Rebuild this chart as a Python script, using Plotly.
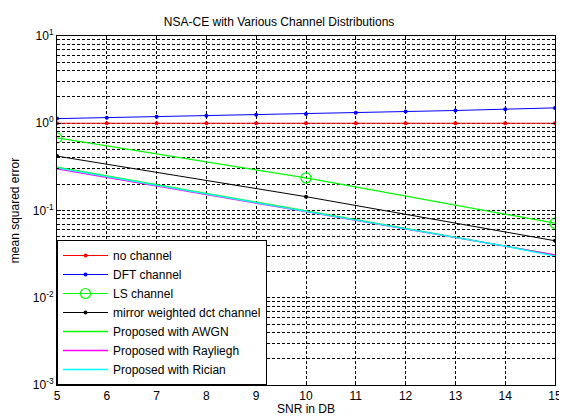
import plotly.graph_objects as go

snr = [5, 6, 7, 8, 9, 10, 11, 12, 13, 14, 15]
snr_ls = [5, 10, 15]

no_channel = [1.0] * 11
dft_channel = [1.13, 1.16, 1.19, 1.22, 1.25, 1.28, 1.32, 1.36, 1.40, 1.45, 1.50]
ls_channel = [0.68, 0.236, 0.0715]
mirror_dct = [0.42, 0.144, 0.045]
awgn = [0.315, 0.250, 0.198, 0.157, 0.125, 0.099, 0.079, 0.062, 0.049, 0.039, 0.031]
rayleigh = [0.300, 0.240, 0.191, 0.152, 0.121, 0.097, 0.077, 0.061, 0.049, 0.039, 0.031]
rician = [0.308, 0.245, 0.194, 0.155, 0.123, 0.098, 0.078, 0.062, 0.049, 0.039, 0.030]

ytick_vals = [1e-3, 1e-2, 1e-1, 1e0, 1e1]
ytick_text = ["10<sup>-3</sup>", "10<sup>-2</sup>", "10<sup>-1</sup>", "10<sup>0</sup>", "10<sup>1</sup>"]
yminor_vals = [m * 10.0 ** e for e in range(-3, 1) for m in range(2, 10)]

fig = go.Figure()
fig.add_trace(go.Scatter(x=snr, y=no_channel, name="no channel", mode="lines+markers",
                         line=dict(color="#ff0000", width=1), marker=dict(symbol="circle", size=4, color="#ff0000")))
fig.add_trace(go.Scatter(x=snr, y=dft_channel, name="DFT channel", mode="lines+markers",
                         line=dict(color="#0000ff", width=1), marker=dict(symbol="circle", size=4, color="#0000ff")))
fig.add_trace(go.Scatter(x=snr_ls, y=ls_channel, name="LS channel", mode="lines+markers",
                         line=dict(color="#00ff00", width=1.2),
                         marker=dict(symbol="circle-open", size=10, color="#00ff00", line=dict(width=1.2))))
fig.add_trace(go.Scatter(x=snr_ls, y=mirror_dct, name="mirror weighted dct channel", mode="lines+markers",
                         line=dict(color="#000000", width=1), marker=dict(symbol="circle", size=4, color="#000000")))
fig.add_trace(go.Scatter(x=snr, y=awgn, name="Proposed with AWGN", mode="lines",
                         line=dict(color="#00ff00", width=1.3)))
fig.add_trace(go.Scatter(x=snr, y=rayleigh, name="Proposed with Rayliegh", mode="lines",
                         line=dict(color="#ff00ff", width=1.3)))
fig.add_trace(go.Scatter(x=snr, y=rician, name="Proposed with Rician", mode="lines",
                         line=dict(color="#00ffff", width=1.3)))

font = "Liberation Sans, Arial, sans-serif"
fig.update_layout(
    width=559, height=408,
    margin=dict(l=49, r=12, t=28, b=31),
    paper_bgcolor="white", plot_bgcolor="white",
    font=dict(family=font, size=12, color="black"),
    title=dict(text="NSA-CE with Various Channel Distributions", x=0.485, xanchor="center",
               xref="container", y=0.965, yref="container", yanchor="middle", font=dict(size=12)),
    showlegend=True,
    legend=dict(x=0, y=0, xanchor="left", yanchor="bottom", bgcolor="white",
                bordercolor="black", borderwidth=1, font=dict(size=12),
                tracegroupgap=0, itemwidth=45),
    xaxis=dict(range=[5, 15], tickmode="linear", dtick=1, tick0=5,
               showline=True, linecolor="black", linewidth=1, mirror="ticks",
               ticks="inside", ticklen=4, tickcolor="black",
               showgrid=True, gridcolor="black", gridwidth=1, griddash="3px,2px",
               zeroline=False, automargin=False,
               title=dict(text="SNR in DB", standoff=5, font=dict(size=12))),
    yaxis=dict(type="log", range=[-3, 1], tickmode="array", tickvals=ytick_vals, ticktext=ytick_text,
               showline=True, linecolor="black", linewidth=1, mirror="ticks",
               ticks="inside", ticklen=4, tickcolor="black",
               showgrid=True, gridcolor="black", gridwidth=1, griddash="3px,2px",
               minor=dict(tickmode="array", tickvals=yminor_vals, ticks="inside", ticklen=2,
                          tickcolor="black", showgrid=True,
                          gridcolor="black", gridwidth=1, griddash="3px,2px"),
               zeroline=False, automargin=False,
               title=dict(text="mean squared error", standoff=20, font=dict(size=12))),
)
fig.write_html("out.html")
